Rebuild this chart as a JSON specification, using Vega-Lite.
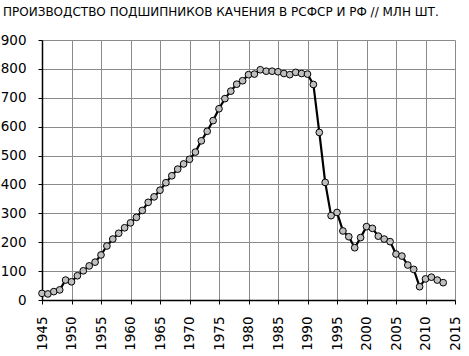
{
  "$schema": "https://vega.github.io/schema/vega-lite/v6.json",
  "width": 413,
  "height": 260,
  "autosize": {"type": "none"},
  "padding": {"left": 42, "top": 40, "right": 14, "bottom": 56},
  "background": "white",
  "title": {
    "text": "ПРОИЗВОДСТВО ПОДШИПНИКОВ КАЧЕНИЯ В  РСФСР И  РФ // МЛН ШТ.",
    "anchor": "start",
    "frame": "group",
    "dx": -39,
    "offset": 5,
    "font": "DejaVu Sans",
    "fontSize": 12,
    "fontWeight": "normal",
    "color": "#000000",
    "baseline": "alphabetic"
  },
  "config": {
    "view": {"stroke": null},
    "axis": {"labelFont": "DejaVu Sans", "labelFontSize": 13.5, "labelColor": "#000000", "titleFont": "DejaVu Sans"}
  },
  "data": {
    "values": [
      {"year": 1945, "value": 23}, {"year": 1946, "value": 21}, {"year": 1947, "value": 29},
      {"year": 1948, "value": 35}, {"year": 1949, "value": 69}, {"year": 1950, "value": 63},
      {"year": 1951, "value": 84}, {"year": 1952, "value": 101}, {"year": 1953, "value": 118},
      {"year": 1954, "value": 131}, {"year": 1955, "value": 156}, {"year": 1956, "value": 187},
      {"year": 1957, "value": 211}, {"year": 1958, "value": 231}, {"year": 1959, "value": 250},
      {"year": 1960, "value": 267}, {"year": 1961, "value": 286}, {"year": 1962, "value": 310},
      {"year": 1963, "value": 338}, {"year": 1964, "value": 357}, {"year": 1965, "value": 380},
      {"year": 1966, "value": 406}, {"year": 1967, "value": 430}, {"year": 1968, "value": 453},
      {"year": 1969, "value": 471}, {"year": 1970, "value": 487}, {"year": 1971, "value": 512},
      {"year": 1972, "value": 551}, {"year": 1973, "value": 584}, {"year": 1974, "value": 621},
      {"year": 1975, "value": 662}, {"year": 1976, "value": 697}, {"year": 1977, "value": 723},
      {"year": 1978, "value": 747}, {"year": 1979, "value": 759}, {"year": 1980, "value": 780},
      {"year": 1981, "value": 782}, {"year": 1982, "value": 797}, {"year": 1983, "value": 792},
      {"year": 1984, "value": 792}, {"year": 1985, "value": 790}, {"year": 1986, "value": 784},
      {"year": 1987, "value": 780}, {"year": 1988, "value": 788}, {"year": 1989, "value": 784},
      {"year": 1990, "value": 782}, {"year": 1991, "value": 746}, {"year": 1992, "value": 580},
      {"year": 1993, "value": 407}, {"year": 1994, "value": 292}, {"year": 1995, "value": 303},
      {"year": 1996, "value": 239}, {"year": 1997, "value": 219}, {"year": 1998, "value": 181},
      {"year": 1999, "value": 216}, {"year": 2000, "value": 254}, {"year": 2001, "value": 248},
      {"year": 2002, "value": 221}, {"year": 2003, "value": 211}, {"year": 2004, "value": 202},
      {"year": 2005, "value": 159}, {"year": 2006, "value": 152}, {"year": 2007, "value": 121},
      {"year": 2008, "value": 106}, {"year": 2009, "value": 46}, {"year": 2010, "value": 73},
      {"year": 2011, "value": 79}, {"year": 2012, "value": 69}, {"year": 2013, "value": 60}
    ]
  },
  "encoding": {
    "x": {
      "field": "year", "type": "quantitative",
      "scale": {"domain": [1945, 2015], "nice": false, "zero": false},
      "axis": {
        "title": null,
        "values": [1945, 1950, 1955, 1960, 1965, 1970, 1975, 1980, 1985, 1990, 1995, 2000, 2005, 2010, 2015],
        "format": "d",
        "labelAngle": -90,
        "labelAlign": "right",
        "labelBaseline": "middle",
        "labelPadding": 12,
        "labelFlush": false,
        "labelOverlap": false,
        "grid": true,
        "gridColor": "#8a8a8a",
        "gridWidth": 1,
        "gridOpacity": 1,
        "domainColor": "#000000",
        "domainWidth": 1.5,
        "tickColor": "#000000",
        "tickSize": 4,
        "tickWidth": 1
      }
    },
    "y": {
      "field": "value", "type": "quantitative",
      "scale": {"domain": [0, 900], "nice": false},
      "axis": {
        "title": null,
        "values": [0, 100, 200, 300, 400, 500, 600, 700, 800, 900],
        "labelPadding": 12,
        "labelFlush": false,
        "grid": true,
        "gridColor": "#8a8a8a",
        "gridWidth": 1,
        "gridOpacity": 1,
        "domainColor": "#000000",
        "domainWidth": 1.5,
        "tickColor": "#000000",
        "tickSize": 4,
        "tickWidth": 1
      }
    }
  },
  "layer": [
    {"mark": {"type": "line", "color": "#000000", "strokeWidth": 2.2}},
    {"mark": {"type": "point", "filled": true, "fill": "#bfbfbf", "stroke": "#000000", "strokeWidth": 1, "size": 45, "opacity": 1}}
  ]
}
